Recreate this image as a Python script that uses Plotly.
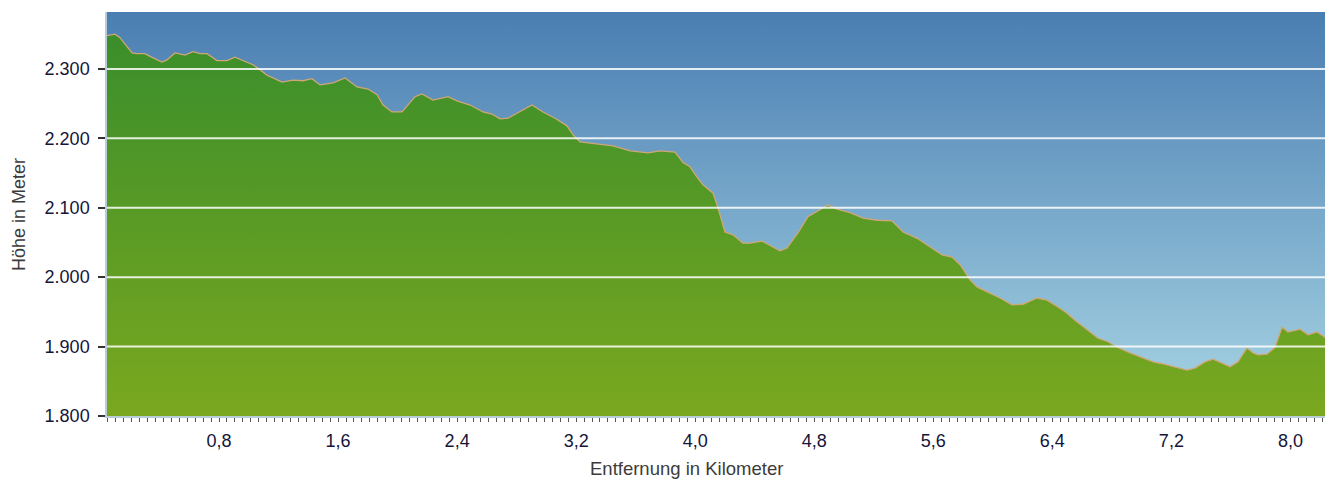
import plotly.graph_objects as go

# Distance (km) and elevation (m)
distance_km = [0.047, 0.101, 0.134, 0.181, 0.215, 0.249, 0.302, 0.356, 0.417, 0.450,
               0.504, 0.571, 0.625, 0.672, 0.719, 0.786, 0.853, 0.907, 0.961, 1.028,
               1.075, 1.122, 1.223, 1.297, 1.364, 1.425, 1.478, 1.566, 1.647, 1.727,
               1.801, 1.862, 1.902, 1.962, 2.030, 2.070, 2.117, 2.164, 2.218, 2.238,
               2.339, 2.399, 2.487, 2.574, 2.634, 2.688, 2.742, 2.823, 2.903, 2.977,
               3.058, 3.138, 3.179, 3.226, 3.340, 3.448, 3.562, 3.683, 3.763, 3.864,
               3.918, 3.965, 4.012, 4.052, 4.120, 4.153, 4.200, 4.254, 4.321, 4.368,
               4.449, 4.503, 4.570, 4.617, 4.691, 4.758, 4.839, 4.892, 4.953, 5.040,
               5.128, 5.222, 5.323, 5.397, 5.491, 5.591, 5.659, 5.726, 5.780, 5.847,
               5.894, 5.981, 6.048, 6.129, 6.203, 6.297, 6.364, 6.438, 6.499, 6.552,
               6.633, 6.707, 6.774, 6.835, 6.922, 7.009, 7.077, 7.144, 7.224, 7.305,
               7.359, 7.426, 7.480, 7.547, 7.594, 7.648, 7.708, 7.749, 7.782, 7.843,
               7.897, 7.944, 7.984, 8.065, 8.118, 8.179, 8.266]
elevation_m = [2348, 2350, 2345, 2332, 2323, 2322, 2322, 2316, 2310, 2313,
               2323, 2320, 2325, 2322, 2322, 2312, 2312, 2317, 2312, 2306,
               2299, 2291, 2281, 2284, 2283, 2286, 2277, 2280, 2287, 2274,
               2271, 2263, 2248, 2238, 2238, 2248, 2260, 2264, 2258, 2255,
               2260, 2254, 2248, 2238, 2235, 2228, 2229, 2238, 2248, 2238,
               2229, 2218, 2205, 2195, 2192, 2189, 2182, 2179, 2182, 2180,
               2165, 2159, 2144, 2133, 2121, 2100, 2065, 2061, 2049, 2049,
               2052, 2046, 2038, 2042, 2064, 2087, 2098, 2104, 2098, 2093,
               2085, 2082, 2081, 2065, 2056, 2042, 2032, 2029, 2018, 1996,
               1986, 1977, 1970, 1960, 1961, 1970, 1967, 1957, 1948, 1938,
               1924, 1912, 1907, 1899, 1891, 1884, 1878, 1875, 1871, 1866,
               1869, 1878, 1882, 1876, 1871, 1878, 1898, 1891, 1888, 1889,
               1899, 1928, 1921, 1925, 1917, 1921, 1908]

x_tick_vals = [0.8, 1.6, 2.4, 3.2, 4.0, 4.8, 5.6, 6.4, 7.2, 8.0]
x_tick_text = ["0,8", "1,6", "2,4", "3,2", "4,0", "4,8", "5,6", "6,4", "7,2", "8,0"]
y_tick_vals = [1800, 1900, 2000, 2100, 2200, 2300]
y_tick_text = ["1.800", "1.900", "2.000", "2.100", "2.200", "2.300"]
grid_vals = [1900, 2000, 2100, 2200, 2300]

x_range = [0.047, 8.266]
y_range = [1800, 2382]

FONT = "Liberation Sans, Arial, sans-serif"

# the page body has an 8px default margin; size the figure so it fits the window
FIG_W, FIG_H = 1325, 474
PLOT_L, PLOT_R, PLOT_T, PLOT_B = 99, 3, 4, 66
plot_w = FIG_W - PLOT_L - PLOT_R
plot_h = FIG_H - PLOT_T - PLOT_B

fig = go.Figure()

# sky background gradient
fig.add_trace(go.Scatter(
    x=[x_range[0], x_range[1], x_range[1], x_range[0], x_range[0]],
    y=[y_range[0], y_range[0], y_range[1], y_range[1], y_range[0]],
    mode="lines", line=dict(width=0), fill="toself",
    fillgradient=dict(type="vertical", start=y_range[0], stop=y_range[1],
                      colorscale=[[0, "#a8d5e4"], [1, "#4a7eb2"]]),
    hoverinfo="skip", showlegend=False,
))

# elevation profile
fig.add_trace(go.Scatter(
    x=distance_km, y=elevation_m, mode="lines",
    line=dict(color="#cfa774", width=1.3),
    fill="tozeroy",
    fillgradient=dict(type="vertical", start=1800, stop=2350,
                      colorscale=[[0, "#7aa81f"], [1, "#3a8e2b"]]),
    showlegend=False,
))

for g in grid_vals:
    fig.add_shape(type="line", xref="paper", x0=0, x1=1, yref="y", y0=g, y1=g,
                  line=dict(color="rgba(255,255,255,0.85)", width=2), layer="above")

fig.update_layout(
    width=FIG_W, height=FIG_H, autosize=False,
    margin=dict(l=PLOT_L, r=PLOT_R, t=PLOT_T, b=PLOT_B, pad=0),
    paper_bgcolor="white", plot_bgcolor="white",
    font=dict(family=FONT),
    xaxis=dict(range=x_range, tickvals=x_tick_vals, ticktext=x_tick_text,
               showgrid=False, zeroline=False,
               showline=True, linecolor="#b9cdd9", linewidth=1.5,
               ticks="outside", ticklen=4, tickcolor="#555", tickwidth=1,
               minor=dict(ticks="outside", ticklen=4, tickcolor="#555",
                          dtick=0.8 / 15, tick0=0.8, showgrid=False),
               ticklabelstandoff=4,
               tickfont=dict(size=18, color="#15153a", family=FONT)),
    yaxis=dict(range=y_range, tickvals=y_tick_vals, ticktext=y_tick_text,
               showgrid=False, zeroline=False,
               showline=True, linecolor="#b9cdd9", linewidth=1.5,
               ticks="outside", ticklen=7, tickcolor="#333", tickwidth=1.5,
               ticklabelstandoff=5,
               tickfont=dict(size=18, color="#15153a", family=FONT)),
    annotations=[
        dict(text="Entfernung in Kilometer", xref="paper", yref="paper",
             x=(678 - PLOT_L) / plot_w, y=-(460 - (PLOT_T + plot_h)) / plot_h,
             xanchor="center", yanchor="middle",
             showarrow=False, font=dict(size=18.5, color="#3c3c3c", family=FONT)),
        dict(text="Höhe in Meter", xref="paper", yref="paper",
             x=(11 - PLOT_L) / plot_w, y=0.5, xanchor="center", yanchor="middle",
             textangle=-90, showarrow=False,
             font=dict(size=18, color="#3c3c3c", family=FONT)),
    ],
)

fig.write_html("out.html")
